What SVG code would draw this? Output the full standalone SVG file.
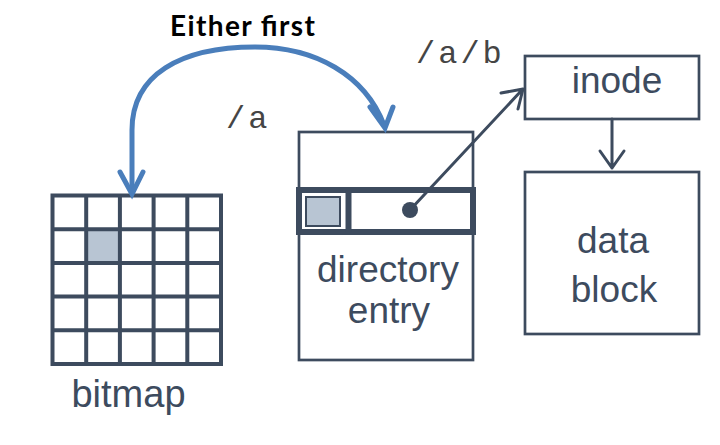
<svg xmlns="http://www.w3.org/2000/svg" width="720" height="445" viewBox="0 0 720 445">
<style>
.lbl{font-family:"Liberation Sans",Arial,sans-serif;font-size:37px;fill:#3d4b5e;text-anchor:middle}
.mono{font-family:"Liberation Mono","Courier New",monospace;font-size:32px;fill:#454545;letter-spacing:3px}
.box{fill:#fff;stroke:#3d4b5e;stroke-width:2.7}
.grid{stroke:#3d4b5e;stroke-width:4;fill:none}
.conn{stroke:#3d4b5e;stroke-width:3;fill:none;stroke-linecap:round;stroke-linejoin:round}
.blue{stroke:#4a7ebb;stroke-width:5;fill:none;stroke-linecap:round;stroke-linejoin:miter}
</style>
<rect width="720" height="445" fill="#fff"/>
<g id="bitmap">
<rect x="87" y="230" width="32" height="32" fill="#b8c5d3"/>
<rect class="grid" x="52.5" y="195.5" width="168.5" height="168.5"/>
<path class="grid" d="M86.2,195.5V364M119.9,195.5V364M153.6,195.5V364M187.3,195.5V364M52.5,229.2H221M52.5,262.9H221M52.5,296.6H221M52.5,330.3H221"/>
<text class="lbl" x="128.5" y="407" style="font-size:38px">bitmap</text>
</g>
<g id="directory">
<rect class="box" x="299" y="132" width="174" height="228"/>
<rect x="299" y="190" width="174" height="42" fill="#fff" stroke="#3d4b5e" stroke-width="6"/>
<line x1="348.5" y1="190" x2="348.5" y2="232" stroke="#3d4b5e" stroke-width="6"/>
<rect x="306" y="197" width="34" height="29" fill="#b8c5d3" stroke="#3d4b5e" stroke-width="2"/>
<circle cx="410" cy="210" r="8" fill="#3d4b5e"/>
<text class="lbl" x="388" y="282">directory</text>
<text class="lbl" x="389" y="323">entry</text>
</g>
<g id="inode">
<rect class="box" x="525" y="56" width="174" height="63"/>
<text class="lbl" x="617" y="93">inode</text>
</g>
<g id="datablock">
<rect class="box" x="525" y="172" width="174" height="162"/>
<text class="lbl" x="613" y="253">data</text>
<text class="lbl" x="614" y="302">block</text>
</g>
<g id="labels">
<text class="mono" x="416" y="63">/a/b</text>
<text class="mono" x="226" y="128">/a</text>
<text x="170" y="36" font-family="Lato,'Open Sans','Liberation Sans',sans-serif" font-weight="700" font-size="28" fill="#000" textLength="145" lengthAdjust="spacing">Either first</text>
</g>
<g id="connectors">
<path class="conn" d="M410,210L522,90M501,93L523,89L518,109"/>
<path class="conn" d="M612,119V168M600,151L612,168L624,151"/>
<path class="blue" d="M132,192L132,130C132,75 180,47 255,47C315,47 365,75 384,125"/>
<path class="blue" d="M120,172L132,194L143,172"/>
<path class="blue" d="M370,107L385,128L393,107"/>
</g>
</svg>
